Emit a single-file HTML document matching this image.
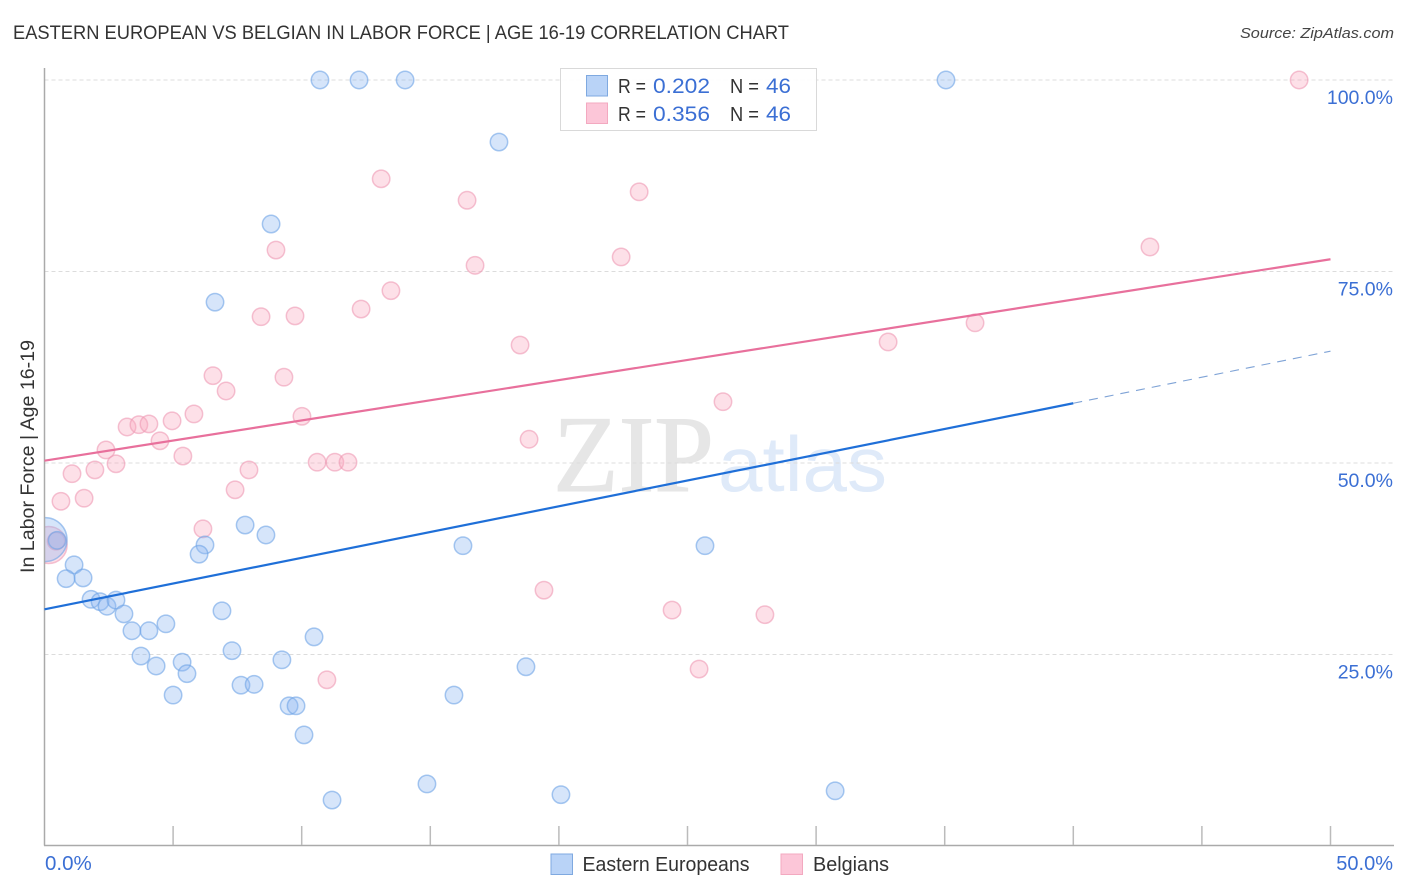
<!DOCTYPE html>
<html>
<head>
<meta charset="utf-8">
<title>Eastern European vs Belgian in Labor Force | Age 16-19 Correlation Chart</title>
<style>
html,body{margin:0;padding:0;background:#fff;}
svg{display:block;font-family:"Liberation Sans",sans-serif;}
</style>
</head>
<body>
<svg id="chart" xmlns="http://www.w3.org/2000/svg" width="1406" height="892" viewBox="0 0 1406 892">
  <text x="13" y="39" font-size="19" fill="#333" textLength="776" lengthAdjust="spacingAndGlyphs">EASTERN EUROPEAN VS BELGIAN IN LABOR FORCE | AGE 16-19 CORRELATION CHART</text>
  <text x="1394" y="38" font-size="15" font-style="italic" fill="#444" text-anchor="end" textLength="154" lengthAdjust="spacingAndGlyphs">Source: ZipAtlas.com</text>
  <text x="553" y="491" style="font-family:'Liberation Serif',serif" font-size="109" fill="#e6e6e6" stroke="#e6e6e6" stroke-width="1" textLength="161" lengthAdjust="spacingAndGlyphs">ZIP</text>
  <text x="718" y="491" style="font-family:'Liberation Sans',sans-serif" font-size="78" fill="#dfeaf9" textLength="169" lengthAdjust="spacingAndGlyphs">atlas</text>
  <g id="grid"></g>
  <g id="points"></g>
  <rect x="0" y="500" width="44" height="90" fill="#fff"/>
  <g id="axes"></g>
  <g id="lines"></g>
  <g id="labels"></g>
  <text transform="translate(34 456.5) rotate(-90)" font-size="19" fill="#333" text-anchor="middle" textLength="233" lengthAdjust="spacingAndGlyphs">In Labor Force | Age 16-19</text>

  <g>
    <rect x="560.5" y="68.5" width="256" height="62" fill="#fff" fill-opacity="0.9" stroke="#d9d9d9"/>
    <rect x="586.5" y="75.5" width="21" height="20.5" fill="#b9d3f7" stroke="#7fa9e0"/>
    <rect x="586.5" y="103" width="21" height="20.5" fill="#fcc6d8" stroke="#f3a9c0"/>
    <text x="618" y="93" font-size="20" fill="#333" textLength="28" lengthAdjust="spacingAndGlyphs">R =</text>
    <text x="653" y="93" font-size="21" fill="#3b6fd4" textLength="57" lengthAdjust="spacingAndGlyphs">0.202</text>
    <text x="730" y="93" font-size="20" fill="#333" textLength="29" lengthAdjust="spacingAndGlyphs">N =</text>
    <text x="766" y="93" font-size="21" fill="#3b6fd4" textLength="25" lengthAdjust="spacingAndGlyphs">46</text>
    <text x="618" y="121" font-size="20" fill="#333" textLength="28" lengthAdjust="spacingAndGlyphs">R =</text>
    <text x="653" y="121" font-size="21" fill="#3b6fd4" textLength="57" lengthAdjust="spacingAndGlyphs">0.356</text>
    <text x="730" y="121" font-size="20" fill="#333" textLength="29" lengthAdjust="spacingAndGlyphs">N =</text>
    <text x="766" y="121" font-size="21" fill="#3b6fd4" textLength="25" lengthAdjust="spacingAndGlyphs">46</text>
  </g>

  <g>
    <rect x="551" y="854" width="21.5" height="20.5" fill="#b9d3f7" stroke="#7fa9e0"/>
    <text x="582.5" y="871" font-size="20" fill="#333" textLength="167" lengthAdjust="spacingAndGlyphs">Eastern Europeans</text>
    <rect x="781" y="854" width="21.5" height="20.5" fill="#fcc6d8" stroke="#f3a9c0"/>
    <text x="813" y="871" font-size="20" fill="#333" textLength="76" lengthAdjust="spacingAndGlyphs">Belgians</text>
  </g>
</svg>
<script>
var blueX = [10.71,12.23,14.02,35.05,17.67,8.81,6.63,7.80,8.61,6.24,6.01,16.27,25.68,0.49,1.15,0.84,1.50,1.81,2.16,2.43,2.78,3.09,3.40,4.06,4.72,6.90,3.75,4.34,5.35,5.54,5.00,7.29,7.64,8.15,9.23,10.48,9.51,9.78,10.09,11.18,14.87,15.92,18.72,20.08,30.74];
var blueY = [100,100,100,100,91.9,81.2,71.0,41.9,40.6,39.3,38.1,39.2,39.2,39.9,36.7,34.9,35.0,32.2,31.9,31.3,32.1,30.3,28.1,28.1,29.0,30.7,24.8,23.5,24.0,22.5,19.7,25.5,21.0,21.1,24.3,27.3,18.3,18.3,14.5,6.0,8.1,19.7,23.4,6.7,7.2];
var pinkX = [48.78,13.09,16.43,23.12,9.00,16.74,22.42,42.98,13.47,12.31,8.42,9.74,36.18,18.49,32.80,6.55,9.31,7.06,26.38,5.81,10.01,4.96,3.21,3.67,4.06,4.49,18.84,2.39,5.38,10.60,11.29,11.80,2.78,1.96,7.95,1.07,0.64,1.54,7.41,6.16,0.45,19.42,24.40,28.01,25.45,10.98];
var pinkY = [100,87.1,84.3,85.4,77.8,75.8,76.9,78.2,72.5,70.1,69.1,69.2,68.3,65.4,65.8,61.4,61.2,59.4,58.0,56.4,56.1,55.5,54.7,55.0,55.1,52.9,53.1,51.7,50.9,50.1,50.1,50.1,49.9,49.1,49.1,48.6,45.0,45.4,46.5,41.4,39.8,33.4,30.8,30.2,23.1,21.7];
var outlierBlue = [0.02, 40.0];
var outlierPink = [0.16, 39.3];
var blueTrendX = [0, 40, 50];
var blueTrendY = [30.9, 57.8, 64.6];
var pinkTrendX = [0, 50];
var pinkTrendY = [50.3, 76.6];
var yTicks = [100, 75, 50, 25];
var yTickLabels = ["100.0%", "75.0%", "50.0%", "25.0%"];
var xTicks = [5, 10, 15, 20, 25, 30, 35, 40, 45, 50];
var xEndLabels = ["0.0%", "50.0%"];

var NS = "http://www.w3.org/2000/svg";
function sx(v){ return 44.5 + v * 25.72; }
function sy(v){ return 846 - v * 7.66; }
function mk(tag, parent, attrs){
  var el = document.createElementNS(NS, tag);
  for (var k in attrs) el.setAttribute(k, attrs[k]);
  document.getElementById(parent).appendChild(el);
  return el;
}

yTicks.forEach(function(t, i){
  var g = mk("line", "grid", {x1:44.5, x2:1394, y1:sy(t), y2:sy(t), stroke:"#dcdcdc", "stroke-width":1, "stroke-dasharray":"4 3"});
  
  
  var l = mk("text", "labels", {x:1393, y:sy(t)+24, "font-size":19.5, fill:"#3b6fd4", "text-anchor":"end"});
  l.textContent = yTickLabels[i];
  
  
});

var yAxis = mk("line", "axes", {x1:44.5, x2:44.5, y1:68, y2:845.5, stroke:"#aaa", "stroke-width":1.5});


var xAxis = mk("line", "axes", {x1:44, x2:1394, y1:845.5, y2:845.5, stroke:"#aaa", "stroke-width":1.5});


xTicks.forEach(function(t){
  var tk = mk("line", "axes", {x1:sx(t), x2:sx(t), y1:826, y2:845, stroke:"#bbb", "stroke-width":1.5});
  
  
});

var xl0 = mk("text", "labels", {x:45, y:870, "font-size":20.5, fill:"#3b6fd4"});
xl0.textContent = xEndLabels[0];


var xl1 = mk("text", "labels", {x:1393, y:870, "font-size":20, fill:"#3b6fd4", "text-anchor":"end"});
xl1.textContent = xEndLabels[1];



function dot(x, y, r, fill, stroke, name){
  var c = mk("circle", "points", {cx:sx(x), cy:sy(y), r:r, fill:fill, "fill-opacity":0.36, stroke:stroke, "stroke-opacity":0.6, "stroke-width":1.5});
  
  
}
var PINK = "#f9a8c0", PINKS = "#ee9ab4", BLUE = "#8cb8f0", BLUES = "#6ea3e6";
dot(outlierPink[0], outlierPink[1], 18.5, PINK, PINKS, "belgians-outlier-point");
pinkX.forEach(function(x, i){ dot(x, pinkY[i], 8.7, PINK, PINKS, "belgians-point"); });
dot(outlierBlue[0], outlierBlue[1], 22, BLUE, BLUES, "eastern-europeans-outlier-point");
blueX.forEach(function(x, i){ dot(x, blueY[i], 8.7, BLUE, BLUES, "eastern-europeans-point"); });

var bs = mk("line", "lines", {x1:sx(blueTrendX[0]), y1:sy(blueTrendY[0]), x2:sx(blueTrendX[1]), y2:sy(blueTrendY[1]), stroke:"#1f6fd8", "stroke-width":2.2});


var bd = mk("line", "lines", {x1:sx(blueTrendX[1]), y1:sy(blueTrendY[1]), x2:sx(blueTrendX[2]), y2:sy(blueTrendY[2]), stroke:"#7fa3d6", "stroke-width":1.1, "stroke-dasharray":"9 7"});


var ps = mk("line", "lines", {x1:sx(pinkTrendX[0]), y1:sy(pinkTrendY[0]), x2:sx(pinkTrendX[1]), y2:sy(pinkTrendY[1]), stroke:"#e8709c", "stroke-width":2.2});


</script>
</body>
</html>
